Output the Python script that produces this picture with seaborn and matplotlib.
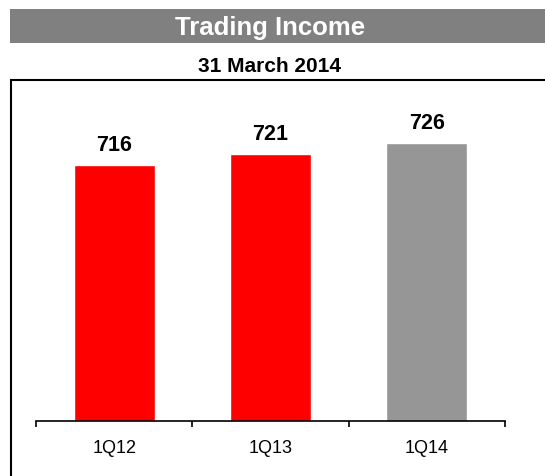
import pandas as pd
import matplotlib
matplotlib.use("Agg")
import matplotlib.pyplot as plt
from matplotlib.patches import Rectangle
import seaborn as sns

# chart data
quarters = ["1Q12", "1Q13", "1Q14"]
income = [716, 721, 726]
bar_colors = ["#FF0000", "#FF0000", "#969696"]

sns.set_style("white")
plt.rcParams['font.family'] = ['Liberation Sans', 'DejaVu Sans']
plt.rcParams['text.color'] = 'black'

W, H = 545, 477
fig = plt.figure(figsize=(W / 100, H / 100), dpi=100)

# grey title bar
fig.patches.append(Rectangle((10 / W, 1 - 44 / H), (W - 10) / W, 34 / H,
                             transform=fig.transFigure, facecolor="#808080",
                             edgecolor="none", zorder=0))
fig.text(270 / W, 1 - 28 / H, "Trading Income", color="white", fontsize=18.5,
         fontweight="bold", ha="center", va="center")
fig.text(270 / W, 1 - 67 / H, "31 March 2014", color="black", fontsize=15,
         fontweight="bold", ha="center", va="center")

# outer frame (only top and left edges are visible)
fig.patches.append(Rectangle((11 / W, -0.1), 1.0, 1 - 81 / H + 0.1,
                             transform=fig.transFigure, facecolor="none",
                             edgecolor="black", linewidth=1.5, zorder=1))

# plot area
ax_left, ax_right = 36 / W, 505 / W
ax_bottom = 1 - 421.5 / H
ax_top = 1 - 90 / H
ax = fig.add_axes([ax_left, ax_bottom, ax_right - ax_left, ax_top - ax_bottom])
ax.patch.set_alpha(0)

df = pd.DataFrame({"quarter": quarters, "income": income})
sns.barplot(data=df, x="quarter", y="income", hue="quarter",
            palette=bar_colors, width=0.52, legend=False, saturation=1, ax=ax)

ax.set_xlim(-0.5, 2.5)
ax.set_ylim(600, 600 + 331.5 / 2.2)

for i, v in enumerate(income):
    ax.annotate(str(v), (i, v), xytext=(0, 7.5), textcoords="offset points",
                ha="center", va="bottom", fontsize=15.5, fontweight="bold",
                color="black")

for s in ["top", "right", "left"]:
    ax.spines[s].set_visible(False)
ax.spines["bottom"].set_linewidth(1.2)
ax.spines["bottom"].set_color("black")

ax.set_yticks([])
ax.set_xlabel("")
ax.set_ylabel("")
ax.set_xticks(range(len(quarters)))
ax.set_xticklabels(quarters, fontsize=13, color="black")
ax.tick_params(axis="x", which="major", bottom=True, length=0, pad=13)
ax.set_xticks([-0.5, 0.5, 1.5, 2.5], minor=True)
ax.tick_params(axis="x", which="minor", bottom=True, length=4.5, width=1.2,
               color="black", direction="out")

fig.savefig("out.png", dpi=100)
